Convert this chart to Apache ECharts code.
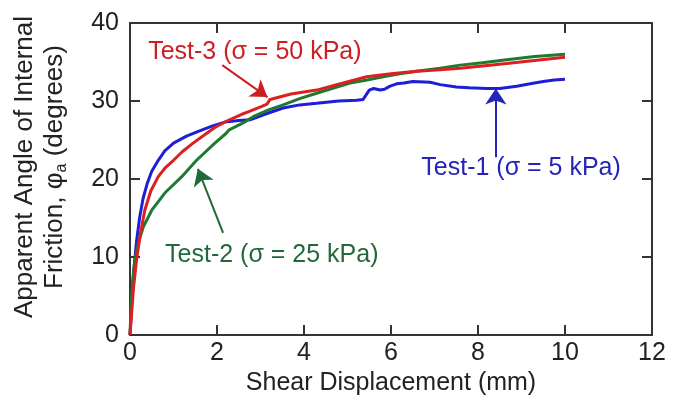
<!DOCTYPE html>
<html>
<head>
<meta charset="utf-8">
<script src="https://cdn.jsdelivr.net/npm/echarts@6.0.0/dist/echarts.min.js"></script>
<style>
html, body { margin: 0; padding: 0; background: #fff; }
#main { width: 676px; height: 398px; }
</style>
</head>
<body>
<div id="main"></div>
<script>
// shear displacement (mm) and apparent friction angle (deg)
var test1X = [0, 0.03, 0.06, 0.1, 0.15, 0.22, 0.3, 0.4, 0.5, 0.65, 0.8, 1.0, 1.3, 1.57, 1.9, 2.18, 2.5, 2.76, 3.1, 3.52, 3.9, 4.29, 4.8, 5.21, 5.36, 5.5, 5.6, 5.75, 5.85, 5.98, 6.13, 6.3, 6.5, 6.9, 7.13, 7.5, 7.8, 8.2, 8.5, 8.89, 9.2, 9.5, 9.75, 10.0];
var test1Y = [0, 3, 6, 9, 12, 15, 17.5, 19.5, 21, 22.4, 23.6, 24.6, 25.5, 26.1, 26.8, 27.3, 27.5, 27.6, 28.3, 29.1, 29.5, 29.7, 30.0, 30.1, 30.2, 31.4, 31.6, 31.4, 31.5, 31.9, 32.2, 32.3, 32.5, 32.4, 32.1, 31.8, 31.7, 31.6, 31.6, 31.9, 32.2, 32.5, 32.7, 32.8];

var test2X = [0, 0.02, 0.04, 0.07, 0.11, 0.2, 0.31, 0.5, 0.8, 1.19, 1.53, 1.95, 2.2, 2.28, 2.6, 2.87, 3.2, 3.52, 3.9, 4.29, 4.7, 5.06, 5.45, 5.82, 6.2, 6.59, 7.13, 7.59, 8.1, 8.66, 9.3, 10.0];
var test2Y = [0, 3, 5.3, 7.5, 9.6, 12, 13.9, 16, 18.2, 20.3, 22.4, 24.6, 25.8, 26.3, 27.2, 28.1, 28.9, 29.5, 30.3, 31.0, 31.7, 32.3, 32.7, 33.1, 33.5, 33.8, 34.2, 34.6, 34.9, 35.3, 35.7, 36.0];

var test3X = [0, 0.04, 0.08, 0.15, 0.24, 0.34, 0.48, 0.65, 0.82, 1.0, 1.2, 1.45, 1.7, 1.95, 2.25, 2.57, 2.76, 3.03, 3.15, 3.22, 3.7, 4.29, 4.9, 5.44, 6.0, 6.59, 7.13, 7.59, 8.1, 8.66, 9.3, 10.0];
var test3Y = [0, 3, 6, 9.6, 13, 16, 18.5, 20.3, 21.5, 22.4, 23.5, 24.6, 25.6, 26.6, 27.5, 28.3, 28.7, 29.3, 29.6, 30.2, 30.9, 31.4, 32.3, 33.1, 33.5, 33.8, 34.0, 34.2, 34.5, 34.8, 35.2, 35.6];

var seriesNames = ['Test-1', 'Test-2', 'Test-3'];
var labelTexts = ['Test-1 (σ = 5 kPa)', 'Test-2 (σ = 25 kPa)', 'Test-3 (σ = 50 kPa)'];

var xMin = 0, xMax = 12, xStep = 2;
var yMin = 0, yMax = 40, yStep = 10;

function pairs(xs, ys) {
    var out = [];
    for (var i = 0; i < xs.length; i++) {
        out.push([xs[i], ys[i]]);
    }
    return out;
}

var font = "'Liberation Sans', Arial, sans-serif";
var axisColor = '#333';

function axis(pos, showLabel, extra) {
    var a = {
        type: 'value',
        position: pos,
        splitLine: { show: false },
        axisLine: { show: true, onZero: false, lineStyle: { color: axisColor, width: 2 } },
        axisTick: { show: true, inside: true, length: 10, lineStyle: { color: axisColor, width: 2 } },
        axisLabel: { show: showLabel, fontSize: 25, color: '#222', fontFamily: font }
    };
    for (var k in extra) a[k] = extra[k];
    return a;
}

// arrow + text for each curve, in data coordinates
function annotation(color, textAt, from, to, text) {
    return {
        markPoint: {
            symbol: 'circle',
            symbolSize: 0,
            silent: true,
            itemStyle: { color: 'transparent' },
            label: { show: true, position: 'inside', formatter: text, color: color, fontSize: 25, fontFamily: font },
            data: [{ coord: textAt }]
        },
        markLine: {
            silent: true,
            symbol: ['none', 'arrow'],
            symbolSize: 16,
            label: { show: false },
            lineStyle: { color: color, width: 2, type: 'solid' },
            data: [[{ coord: from }, { coord: to }]]
        }
    };
}

var myChart = echarts.init(document.getElementById('main'));

var a1 = annotation('#2424b8', [8.99, 21.4], [8.41, 22.8], [8.41, 31.6], labelTexts[0]);
var a2 = annotation('#22693a', [3.26, 10.3], [2.14, 13.1], [1.56, 21.3], labelTexts[1]);
var a3 = annotation('#cc1f22', [2.87, 36.3], [2.12, 34.6], [3.16, 30.5], labelTexts[2]);

var option = {
    animation: false,
    backgroundColor: '#fff',
    grid: { left: 130, right: 24, top: 23, bottom: 63, containLabel: false, outerBoundsMode: 'none' },
    xAxis: [
        axis('bottom', true, {
            min: xMin, max: xMax, interval: xStep,
            name: 'Shear Displacement (mm)',
            nameLocation: 'middle',
            nameGap: 33,
            nameTextStyle: { fontSize: 25, color: '#222', fontFamily: font }
        }),
        axis('top', false, { min: xMin, max: xMax, interval: xStep })
    ],
    yAxis: [
        axis('left', true, {
            min: yMin, max: yMax, interval: yStep,
            name: 'Apparent Angle of Internal\nFriction, φ{sub|a} (degrees)',
            nameLocation: 'middle',
            nameRotate: 90,
            nameGap: 60,
            nameTextStyle: {
                fontSize: 26, color: '#222', fontFamily: font, lineHeight: 30,
                padding: [0, 0, 0, 24],
                rich: {
                    sub: { fontSize: 16, lineHeight: 30, verticalAlign: 'bottom', color: '#222', fontFamily: font }
                }
            }
        }),
        axis('right', false, { min: yMin, max: yMax, interval: yStep })
    ],
    series: [
        Object.assign({
            name: seriesNames[0],
            type: 'line',
            data: pairs(test1X, test1Y),
            showSymbol: false,
            lineStyle: { color: '#1e1ed6', width: 3 }
        }, a1),
        Object.assign({
            name: seriesNames[1],
            type: 'line',
            data: pairs(test2X, test2Y),
            showSymbol: false,
            lineStyle: { color: '#1d7a30', width: 3 }
        }, a2),
        Object.assign({
            name: seriesNames[2],
            type: 'line',
            data: pairs(test3X, test3Y),
            showSymbol: false,
            lineStyle: { color: '#dc2020', width: 3 }
        }, a3)
    ]
};
option.xAxis[0].axisLabel.margin = 6;
option.yAxis[0].axisLabel.margin = 11;
myChart.setOption(option);
</script>
</body>
</html>
